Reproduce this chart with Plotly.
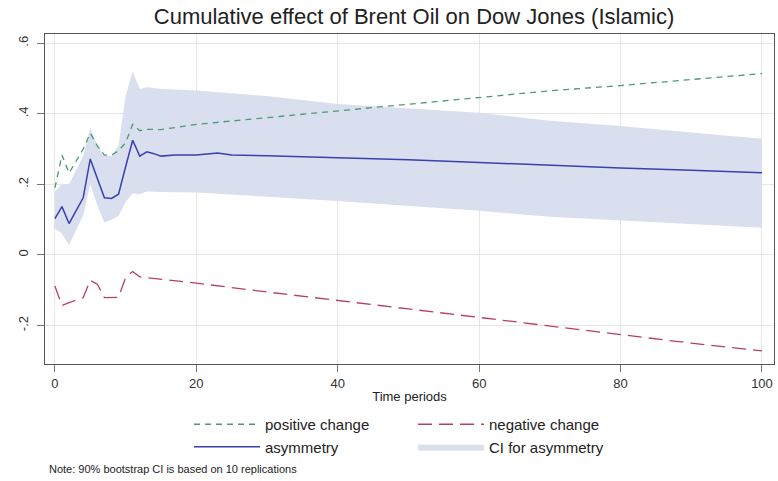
import plotly.graph_objects as go

# ---- data ----
asym_t = [0, 1, 2, 3, 4, 5, 6, 7, 8, 9, 10, 11, 12, 13, 14, 15, 17, 20, 23, 25, 30, 40, 50, 60, 70, 80, 90, 100]
asym_v = [0.103, 0.137, 0.089, 0.125, 0.162, 0.272, 0.215, 0.162, 0.160, 0.172, 0.250, 0.325, 0.280, 0.292,
          0.287, 0.280, 0.283, 0.283, 0.289, 0.283, 0.281, 0.276, 0.270, 0.262, 0.253, 0.246, 0.240, 0.233]

pos_t = [0, 1, 2, 3, 4, 5, 6, 7, 8, 9, 10, 11, 12, 13, 15, 20, 30, 40, 50, 60, 70, 80, 90, 100]
pos_v = [0.190, 0.283, 0.232, 0.266, 0.300, 0.345, 0.309, 0.283, 0.283, 0.295, 0.318, 0.370, 0.352, 0.356,
         0.355, 0.370, 0.389, 0.410, 0.428, 0.448, 0.465, 0.480, 0.497, 0.514]

neg_t = [0, 1, 2, 3, 4, 5, 6, 7, 8, 9, 10, 11, 12, 13, 20, 30, 40, 50, 60, 70, 80, 90, 100]
neg_v = [-0.088, -0.143, -0.135, -0.128, -0.121, -0.072, -0.083, -0.121, -0.120, -0.120, -0.064, -0.047,
         -0.062, -0.064, -0.080, -0.105, -0.128, -0.153, -0.177, -0.202, -0.226, -0.250, -0.272]

ci_t = [0, 1, 2, 3, 4, 5, 6, 7, 8, 9, 10, 11, 12, 13, 15, 20, 30, 40, 50, 60, 70, 80, 90, 100]
ci_upper = [0.180, 0.200, 0.200, 0.240, 0.280, 0.360, 0.310, 0.280, 0.280, 0.310, 0.450, 0.520, 0.470, 0.475,
            0.470, 0.466, 0.450, 0.428, 0.415, 0.403, 0.380, 0.365, 0.347, 0.329]
ci_lower = [0.075, 0.060, 0.028, 0.070, 0.112, 0.200, 0.140, 0.092, 0.100, 0.110, 0.150, 0.175, 0.172, 0.180,
            0.178, 0.177, 0.165, 0.153, 0.140, 0.125, 0.108, 0.097, 0.087, 0.077]

x_ticks = [0, 20, 40, 60, 80, 100]
y_ticks = [-0.2, 0, 0.2, 0.4, 0.6]
y_labels = ["-.2", "0", ".2", ".4", ".6"]

title = "Cumulative effect of Brent Oil on Dow Jones (Islamic)"
note = "Note: 90% bootstrap CI is based on 10 replications"

W, H = 778, 481
ML, MR, MT, MB = 45, 4, 34, 117
PW, PH = W - ML - MR, H - MT - MB
FONT = "Liberation Sans, Arial, sans-serif"


def px_x(p):
    return (p - ML) / PW


def px_y(p):
    return (H - MB - p) / PH


fig = go.Figure()

fig.add_trace(go.Scatter(
    x=ci_t + ci_t[::-1], y=ci_upper + ci_lower[::-1],
    fill="toself", fillcolor="#d9dfee", line=dict(width=0, color="#d9dfee"),
    mode="lines", name="CI for asymmetry", legend="legend2", hoverinfo="skip"))

fig.add_trace(go.Scatter(
    x=pos_t, y=pos_v, mode="lines", name="positive change",
    line=dict(color="#4e9a72", width=1.3, dash="6px,5px"), legend="legend"))

fig.add_trace(go.Scatter(
    x=neg_t, y=neg_v, mode="lines", name="negative change",
    line=dict(color="#b8405f", width=1.3, dash="14px,7px"), legend="legend2"))

fig.add_trace(go.Scatter(
    x=asym_t, y=asym_v, mode="lines", name="asymmetry",
    line=dict(color="#3a40b0", width=1.5), legend="legend"))

axis_common = dict(
    showline=True, linecolor="#555555", linewidth=1.2, mirror=True,
    showgrid=True, gridcolor="#e6e6e6", gridwidth=1,
    ticks="outside", ticklen=7, tickcolor="#777777", tickwidth=1,
    zeroline=False, automargin=False,
    tickfont=dict(family=FONT, size=13, color="#333333"),
)

legend_common = dict(
    xanchor="left", yanchor="top", font=dict(family=FONT, size=15, color="#222222"),
    itemwidth=66, bgcolor="rgba(0,0,0,0)", tracegroupgap=0,
)

fig.update_layout(
    width=W, height=H,
    paper_bgcolor="white", plot_bgcolor="white",
    margin=dict(l=ML, r=MR, t=MT, b=MB),
    font=dict(family=FONT, color="#222222"),
    title=dict(text=title, x=414 / W, xanchor="center", y=1 - 16 / H, yanchor="middle",
               xref="container", yref="container",
               font=dict(family=FONT, size=22, color="#222222")),
    xaxis=dict(range=[-1.4, 101.7], tickvals=x_ticks,
               title=dict(text="Time periods", font=dict(family=FONT, size=13, color="#222222"), standoff=2),
               **axis_common),
    yaxis=dict(range=[-0.309, 0.626], tickvals=y_ticks, ticktext=y_labels, tickangle=-90,
               ticklabelstandoff=4, **axis_common),
    legend=dict(x=px_x(189), y=px_y(408), traceorder="normal", **legend_common),
    legend2=dict(x=px_x(413), y=px_y(408), traceorder="reversed", **legend_common),
    annotations=[dict(text=note, xref="paper", yref="paper",
                      x=px_x(47), y=px_y(469),
                      xanchor="left", yanchor="middle", showarrow=False,
                      font=dict(family=FONT, size=11, color="#222222"))],
)

fig.write_html("out.html")
